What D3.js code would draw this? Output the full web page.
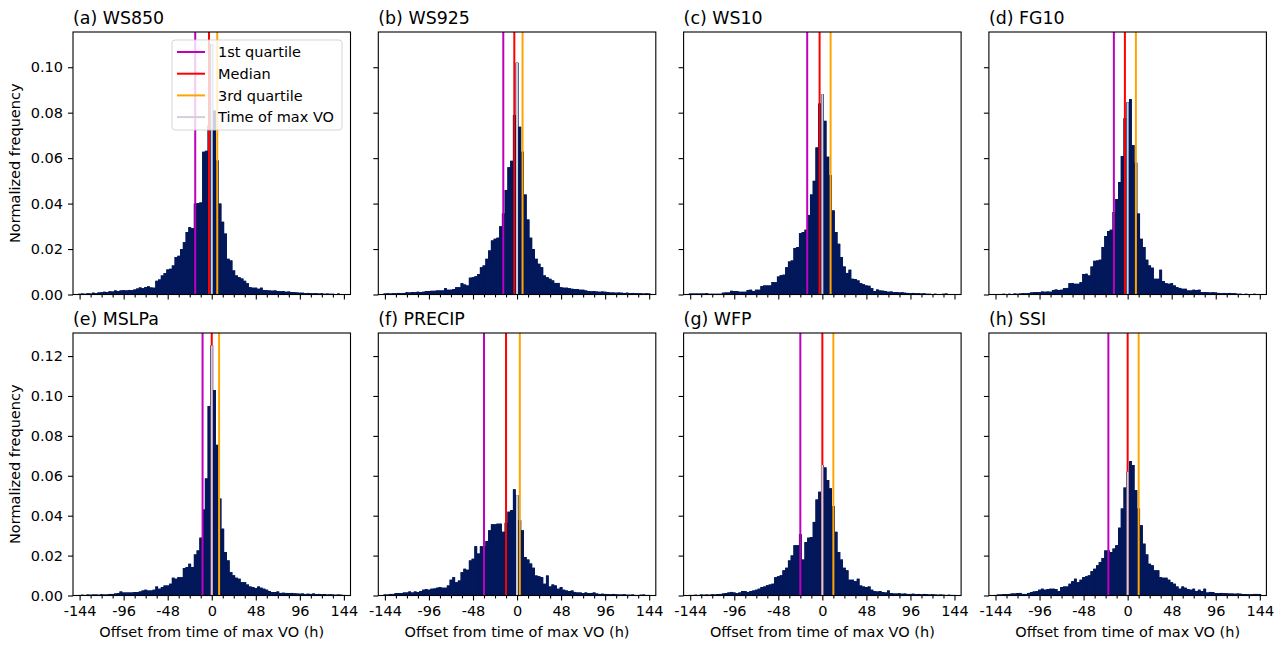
<!DOCTYPE html>
<html><head><meta charset="utf-8">
<script src="https://cdn.jsdelivr.net/npm/d3@7"></script>
<style>body{margin:0;background:#fff;} svg{display:block;font-family:"DejaVu Sans",sans-serif;}</style>
</head><body><svg id="chart" width="1288" height="646"></svg>
<script>
// ---------- data ----------
const binCenters = [-144,-141,-138,-135,-132,-129,-126,-123,-120,-117,-114,-111,-108,-105,-102,-99,-96,-93,-90,-87,-84,-81,-78,-75,-72,-69,-66,-63,-60,-57,-54,-51,-48,-45,-42,-39,-36,-33,-30,-27,-24,-21,-18,-15,-12,-9,-6,-3,0,3,6,9,12,15,18,21,24,27,30,33,36,39,42,45,48,51,54,57,60,63,66,69,72,75,78,81,84,87,90,93,96,99,102,105,108,111,114,117,120,123,126,129,132,135,138,141,144];
const panelTitles = ["(a) WS850","(b) WS925","(c) WS10","(d) FG10","(e) MSLPa","(f) PRECIP","(g) WFP","(h) SSI"];
const ws850 = [0.0003,0.0004,0.0003,0.0005,0.0004,0.0008,0.0006,0.0009,0.0010,0.0012,
0.0011,0.0014,0.0013,0.0018,0.0015,0.0018,0.0019,0.0018,0.0020,0.0019,
0.0022,0.0026,0.0031,0.0028,0.0033,0.0036,0.0031,0.0030,0.0060,0.0066,
0.0084,0.0094,0.0110,0.0113,0.0128,0.0165,0.0170,0.0200,0.0230,0.0275,
0.0297,0.0292,0.0400,0.0402,0.0405,0.0628,0.0632,0.0745,0.1100,0.0810,
0.0590,0.0400,0.0320,0.0268,0.0157,0.0150,0.0106,0.0084,0.0076,0.0070,
0.0060,0.0050,0.0032,0.0030,0.0030,0.0025,0.0030,0.0020,0.0019,0.0018,
0.0017,0.0018,0.0015,0.0014,0.0015,0.0012,0.0013,0.0011,0.0010,0.0009,
0.0008,0.0008,0.0006,0.0007,0.0006,0.0005,0.0006,0.0004,0.0005,0.0003,
0.0004,0.0003,0.0003,0.0002,0.0004,0.0002,0.0002];
const ws925 = [0.0004,0.0005,0.0004,0.0006,0.0005,0.0007,0.0006,0.0007,0.0010,0.0009,
0.0011,0.0010,0.0012,0.0011,0.0012,0.0015,0.0015,0.0016,0.0016,0.0018,
0.0018,0.0018,0.0028,0.0021,0.0021,0.0024,0.0032,0.0032,0.0050,0.0044,
0.0040,0.0074,0.0076,0.0080,0.0090,0.0120,0.0128,0.0157,0.0194,0.0238,
0.0245,0.0250,0.0300,0.0356,0.0460,0.0560,0.0588,0.0790,0.1020,0.0738,
0.0628,0.0440,0.0330,0.0250,0.0200,0.0157,0.0135,0.0120,0.0084,0.0076,
0.0069,0.0062,0.0051,0.0051,0.0032,0.0030,0.0030,0.0028,0.0025,0.0024,
0.0024,0.0021,0.0021,0.0018,0.0015,0.0014,0.0015,0.0013,0.0012,0.0013,
0.0012,0.0011,0.0009,0.0009,0.0008,0.0009,0.0008,0.0007,0.0008,0.0006,
0.0007,0.0006,0.0005,0.0005,0.0004,0.0005,0.0004];
const ws10 = [0.0004,0.0004,0.0004,0.0004,0.0004,0.0004,0.0006,0.0003,0.0003,0.0003,
0.0003,0.0003,0.0008,0.0009,0.0009,0.0016,0.0015,0.0015,0.0012,0.0012,
0.0012,0.0020,0.0021,0.0015,0.0021,0.0021,0.0037,0.0040,0.0040,0.0040,
0.0055,0.0054,0.0079,0.0085,0.0087,0.0120,0.0145,0.0150,0.0205,0.0209,
0.0270,0.0275,0.0285,0.0350,0.0440,0.0500,0.0647,0.0840,0.0882,0.0764,
0.0606,0.0525,0.0370,0.0275,0.0223,0.0165,0.0123,0.0095,0.0109,0.0069,
0.0068,0.0062,0.0050,0.0045,0.0040,0.0038,0.0028,0.0015,0.0022,0.0018,
0.0017,0.0015,0.0012,0.0013,0.0010,0.0011,0.0009,0.0010,0.0008,0.0007,
0.0006,0.0007,0.0005,0.0006,0.0004,0.0005,0.0003,0.0003,0.0002,0.0003,
0.0002,0.0002,0.0003,0.0004,0.0002,0.0002,0.0001];
const fg10 = [0.0001,0.0002,0.0002,0.0003,0.0002,0.0003,0.0002,0.0004,0.0003,0.0004,
0.0006,0.0005,0.0006,0.0009,0.0010,0.0011,0.0010,0.0013,0.0012,0.0013,
0.0012,0.0020,0.0022,0.0020,0.0021,0.0028,0.0029,0.0050,0.0050,0.0047,
0.0047,0.0054,0.0090,0.0091,0.0084,0.0123,0.0148,0.0150,0.0153,0.0209,
0.0257,0.0279,0.0285,0.0363,0.0420,0.0495,0.0609,0.0775,0.0845,0.0860,
0.0657,0.0580,0.0356,0.0245,0.0209,0.0153,0.0128,0.0118,0.0069,0.0069,
0.0109,0.0059,0.0050,0.0047,0.0050,0.0040,0.0032,0.0029,0.0025,0.0025,
0.0018,0.0018,0.0021,0.0020,0.0021,0.0010,0.0011,0.0010,0.0009,0.0010,
0.0009,0.0007,0.0006,0.0007,0.0006,0.0007,0.0006,0.0005,0.0003,0.0003,
0.0002,0.0003,0.0002,0.0002,0.0003,0.0002,0.0002];
const mslpa = [0.0003,0.0004,0.0003,0.0005,0.0004,0.0005,0.0005,0.0004,0.0006,0.0005,
0.0005,0.0008,0.0008,0.0010,0.0012,0.0020,0.0015,0.0015,0.0015,0.0015,
0.0017,0.0017,0.0020,0.0025,0.0029,0.0025,0.0025,0.0029,0.0045,0.0034,
0.0042,0.0050,0.0050,0.0059,0.0089,0.0084,0.0092,0.0092,0.0138,0.0143,
0.0159,0.0143,0.0206,0.0226,0.0290,0.0431,0.0587,0.0950,0.1253,0.1030,
0.0755,0.0486,0.0335,0.0218,0.0176,0.0117,0.0101,0.0089,0.0084,0.0067,
0.0067,0.0055,0.0045,0.0042,0.0037,0.0045,0.0039,0.0034,0.0029,0.0022,
0.0017,0.0017,0.0020,0.0013,0.0014,0.0013,0.0012,0.0013,0.0011,0.0010,
0.0009,0.0010,0.0008,0.0009,0.0008,0.0010,0.0007,0.0008,0.0006,0.0007,
0.0005,0.0006,0.0005,0.0004,0.0005,0.0004,0.0003];
const precip = [0.0005,0.0005,0.0008,0.0008,0.0012,0.0012,0.0012,0.0015,0.0015,0.0020,
0.0015,0.0020,0.0017,0.0022,0.0029,0.0032,0.0029,0.0034,0.0035,0.0039,
0.0042,0.0039,0.0039,0.0050,0.0079,0.0092,0.0067,0.0075,0.0117,0.0134,
0.0129,0.0176,0.0184,0.0247,0.0210,0.0247,0.0247,0.0273,0.0327,0.0357,
0.0357,0.0360,0.0360,0.0319,0.0364,0.0420,0.0428,0.0532,0.0503,0.0377,
0.0327,0.0193,0.0180,0.0160,0.0139,0.0100,0.0096,0.0092,0.0059,0.0100,
0.0045,0.0055,0.0050,0.0034,0.0042,0.0029,0.0025,0.0022,0.0025,0.0018,
0.0015,0.0015,0.0012,0.0015,0.0012,0.0013,0.0015,0.0010,0.0008,0.0009,
0.0008,0.0007,0.0006,0.0008,0.0006,0.0005,0.0005,0.0006,0.0004,0.0004,
0.0005,0.0003,0.0003,0.0004,0.0005,0.0003,0.0003];
const wfp = [0.0003,0.0003,0.0004,0.0003,0.0005,0.0004,0.0005,0.0004,0.0006,0.0005,
0.0007,0.0008,0.0010,0.0012,0.0015,0.0018,0.0015,0.0012,0.0015,0.0022,
0.0022,0.0018,0.0022,0.0025,0.0029,0.0034,0.0042,0.0045,0.0052,0.0055,
0.0059,0.0092,0.0096,0.0101,0.0126,0.0139,0.0176,0.0201,0.0252,0.0252,
0.0307,0.0180,0.0268,0.0290,0.0293,0.0369,0.0481,0.0520,0.0654,0.0642,
0.0579,0.0537,0.0448,0.0319,0.0218,0.0180,0.0139,0.0126,0.0079,0.0079,
0.0072,0.0084,0.0050,0.0045,0.0042,0.0045,0.0029,0.0022,0.0020,0.0022,
0.0017,0.0015,0.0025,0.0012,0.0010,0.0010,0.0011,0.0009,0.0010,0.0008,
0.0008,0.0009,0.0007,0.0008,0.0006,0.0008,0.0007,0.0005,0.0006,0.0005,
0.0004,0.0005,0.0004,0.0003,0.0004,0.0003,0.0003];
const ssi = [0.0003,0.0005,0.0005,0.0007,0.0007,0.0008,0.0010,0.0010,0.0012,0.0013,
0.0008,0.0008,0.0013,0.0017,0.0020,0.0022,0.0029,0.0034,0.0029,0.0032,
0.0034,0.0034,0.0032,0.0022,0.0042,0.0045,0.0045,0.0059,0.0072,0.0084,
0.0067,0.0079,0.0092,0.0096,0.0101,0.0122,0.0134,0.0151,0.0168,0.0188,
0.0226,0.0226,0.0218,0.0235,0.0252,0.0340,0.0436,0.0541,0.0620,0.0674,
0.0654,0.0528,0.0436,0.0352,0.0260,0.0206,0.0159,0.0151,0.0126,0.0126,
0.0092,0.0089,0.0089,0.0079,0.0067,0.0059,0.0045,0.0034,0.0045,0.0039,
0.0032,0.0029,0.0034,0.0022,0.0029,0.0022,0.0034,0.0015,0.0018,0.0017,
0.0012,0.0012,0.0013,0.0012,0.0011,0.0010,0.0010,0.0009,0.0010,0.0009,
0.0007,0.0007,0.0006,0.0006,0.0008,0.0008,0.0007];
const quartile1 = [-18,-15,-16.5,-15,-10,-36,-24,-21];
const medians   = [-3,-3,-3,-3,0,-12,0,0];
const quartile3 = [6,6,9,9,8,3,12,12];
const xTickValues = [-144,-96,-48,0,48,96,144];
const xMinorTicks = [-132,-120,-108,-84,-72,-60,-36,-24,-12,12,24,36,60,72,84,108,120,132];
const yTicksTop = [0,0.02,0.04,0.06,0.08,0.10];
const yTicksBottom = [0,0.02,0.04,0.06,0.08,0.10,0.12];
const legendLabels = ["1st quartile","Median","3rd quartile","Time of max VO"];
const xLabel = "Offset from time of max VO (h)";
const yLabel = "Normalized frequency";

// ---------- layout / style ----------
const series = [ws850, ws925, ws10, fg10, mslpa, precip, wfp, ssi];
const lefts = [73, 378.3, 683.6, 988.9], tops = [32, 333], W = 277.5, H = 262.5;
const navy = "#02185a", greyLine = "#cdd1dc";
const lineColors = ["#bf00bf", "#ff0000", "#ffa500", greyLine];
const FS = 14.5;
const svg = d3.select("#chart");

const x = d3.scaleLinear().domain([-151.2, 151.2]).range([0, W]);
const rowMax = [d3.max(series.slice(0,4).flat()), d3.max(series.slice(4).flat())];
const yScales = rowMax.map(m => d3.scaleLinear().domain([0, m * 1.05]).range([H, 0]));

function styleAxis(sel) {
  sel.select(".domain").remove();
  sel.selectAll(".tick line").attr("stroke", "#000").attr("stroke-width", 1.1);
  sel.selectAll("text").attr("font-size", FS).attr("font-family", "DejaVu Sans").attr("fill", "#000");
}

series.forEach((vals, i) => {
  const row = i < 4 ? 0 : 1, col = i % 4;
  const y = yScales[row];
  const g = svg.append("g").attr("transform", `translate(${lefts[col]},${tops[row]})`);
  const data = binCenters.map((c, j) => ({c, v: vals[j]}));

  // seamless underlay (histogram outline) + individual bars
  const stepPts = data.flatMap(d => [{h: d.c - 1.5, v: d.v}, {h: d.c + 1.5, v: d.v}]);
  g.append("path").datum(stepPts)
    .attr("d", d3.area().x(p => x(p.h)).y0(y(0)).y1(p => y(p.v)))
    .attr("fill", navy);
  g.selectAll("rect.bar").data(data).join("rect").attr("class", "bar")
    .attr("x", d => x(d.c - 1.5)).attr("width", d => x(d.c + 1.5) - x(d.c - 1.5))
    .attr("y", d => y(d.v)).attr("height", d => y(0) - y(d.v))
    .attr("fill", navy);

  [quartile1[i], medians[i], quartile3[i]].forEach((q, k) => {
    g.append("line").attr("x1", x(q)).attr("x2", x(q)).attr("y1", 0).attr("y2", H)
      .attr("stroke", lineColors[k]).attr("stroke-width", 2);
  });
  const v0 = data.find(d => d.c === 0).v;
  g.append("line").attr("x1", x(0)).attr("x2", x(0)).attr("y1", y(v0)).attr("y2", y(0))
    .attr("stroke", greyLine).attr("stroke-width", 2);

  const yAx = d3.axisLeft(y).tickValues(row === 0 ? yTicksTop : yTicksBottom)
    .tickSize(5).tickPadding(5).tickFormat(col === 0 ? d3.format(".2f") : () => "");
  g.append("g").call(yAx).call(styleAxis);

  const xAx = d3.axisBottom(x).tickValues(xTickValues).tickSize(5).tickPadding(5)
    .tickFormat(row === 1 ? d => String(d) : () => "");
  g.append("g").attr("transform", `translate(0,${H})`).call(xAx).call(styleAxis);
  g.append("g").attr("transform", `translate(0,${H})`)
    .call(d3.axisBottom(x).tickValues(xMinorTicks).tickSize(2.9).tickFormat(() => "")).call(styleAxis);

  g.append("rect").attr("x", 0).attr("y", 0).attr("width", W).attr("height", H)
    .attr("fill", "none").attr("stroke", "#000").attr("stroke-width", 1.1);

  g.append("text").attr("x", 0).attr("y", -8.5).attr("font-size", 17.4).text(panelTitles[i]);

  if (col === 0) {
    g.append("text").attr("transform", `translate(-53,${H/2}) rotate(-90)`)
      .attr("text-anchor", "middle").attr("font-size", FS).text(yLabel);
  }
  if (row === 1) {
    g.append("text").attr("x", W/2).attr("y", H + 41.5).attr("text-anchor", "middle")
      .attr("font-size", FS).text(xLabel);
  }
  if (i === 0) {
    const lg = g.append("g").attr("transform", "translate(99,8)");
    lg.append("rect").attr("width", 170).attr("height", 90).attr("rx", 3)
      .attr("fill", "#fff").attr("fill-opacity", 0.8).attr("stroke", "#cccccc").attr("stroke-opacity", 0.8);
    legendLabels.forEach((lab, k) => {
      const yy = 12 + k * 21.7;
      lg.append("line").attr("x1", 5).attr("x2", 33).attr("y1", yy).attr("y2", yy)
        .attr("stroke", lineColors[k]).attr("stroke-width", 2);
      lg.append("text").attr("x", 46).attr("y", yy).attr("dy", "0.36em").attr("font-size", FS).text(lab);
    });
  }
});
</script></body></html>
